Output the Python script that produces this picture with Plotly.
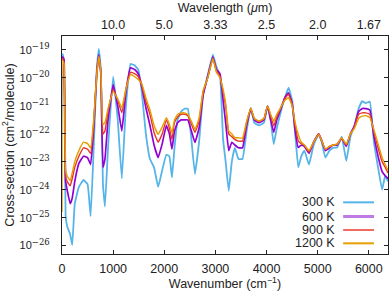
import plotly.graph_objects as go

# ---- data (log10 of cross-section, cm^2/molecule) ----
wavenumber = [0, 15, 40, 70, 100, 160, 200, 250, 330, 420,
              500, 560, 620, 680, 720, 760, 800, 840, 900, 1000,
              1090, 1170, 1250, 1340, 1420, 1490, 1560, 1640, 1720, 1800,
              1880, 1960, 2040, 2100, 2150, 2200, 2260, 2330, 2400, 2460,
              2530, 2600, 2680, 2760, 2850, 2950, 3020, 3090, 3150, 3200,
              3260, 3320, 3380, 3450, 3530, 3610, 3690, 3760, 3850, 3950,
              4020, 4080, 4140, 4200, 4280, 4360, 4430, 4500, 4560, 4620,
              4680, 4740, 4830, 4920, 5020, 5080, 5150, 5230, 5300, 5380,
              5470, 5560, 5640, 5720, 5800, 5870, 5940, 6020, 6100, 6180,
              6260, 6320, 6375]

log_xs_300 = [-19.2, -19.15, -19.5, -24.9, -25.3, -25.6, -25.97, -24.5, -23.9, -23.65,
              -23.8, -24.95, -22.5, -19.7, -18.96, -19.7, -23.8, -24.6, -22.5, -19.95,
              -21.5, -23.6, -21.0, -19.5, -19.55, -19.7, -20.5, -22.0, -22.9, -23.2,
              -23.9, -23.3, -22.75, -22.8, -23.56, -22.5, -21.5, -21.2, -21.1, -21.1,
              -22.2, -23.44, -22.3, -20.6, -19.9, -19.17, -19.6, -19.9, -22.2, -23.0,
              -24.04, -23.0, -22.5, -22.9, -22.9, -21.9, -21.07, -21.6, -21.7, -21.6,
              -21.0, -21.5, -22.37, -21.8, -21.2, -20.7, -20.35, -20.8, -22.0, -23.2,
              -22.8, -22.6, -23.1, -22.4, -22.02, -22.3, -22.85, -22.6, -22.5, -22.49,
              -22.1, -22.97, -22.1, -21.7, -21.1, -20.83, -20.9, -20.85, -22.3, -23.2,
              -24.0, -23.5, -23.7]

log_xs_600 = [-19.3, -19.25, -19.35, -23.7, -24.0, -24.5, -24.3, -23.7, -23.06, -22.8,
              -22.85, -23.1, -21.8, -19.8, -19.17, -19.8, -23.2, -22.9, -21.5, -20.25,
              -21.0, -21.9, -20.5, -19.64, -19.7, -19.85, -20.3, -21.06, -21.7, -22.4,
              -22.85, -22.35, -21.7, -22.0, -22.55, -21.9, -21.6, -21.5, -21.5, -21.5,
              -21.9, -22.31, -21.8, -20.6, -19.95, -19.25, -19.7, -19.85, -20.8, -21.6,
              -22.6, -22.3, -22.4, -22.5, -22.5, -21.7, -21.1, -21.5, -21.6, -21.5,
              -21.0, -21.5, -21.95, -21.5, -21.1, -20.7, -20.53, -20.9, -21.9, -22.49,
              -22.4, -22.45, -22.7, -22.3, -22.0, -22.25, -22.6, -22.5, -22.4, -22.4,
              -22.15, -22.45, -22.0, -21.7, -21.2, -21.1, -21.1, -21.15, -22.1, -22.8,
              -23.35, -23.5, -23.6]

log_xs_900 = [-19.35, -19.3, -19.45, -23.5, -23.7, -23.86, -23.6, -23.2, -22.8, -22.5,
              -22.55, -22.7, -21.6, -19.85, -19.29, -19.9, -22.02, -21.9, -21.2, -20.4,
              -20.8, -21.25, -20.4, -19.8, -19.85, -19.95, -20.25, -20.85, -21.3, -21.95,
              -22.3, -22.0, -21.5, -21.8, -22.2, -21.6, -21.4, -21.3, -21.3, -21.35,
              -21.65, -21.95, -21.55, -20.5, -20.0, -19.3, -19.75, -19.95, -20.5, -21.0,
              -22.0, -22.1, -22.2, -22.26, -22.26, -21.6, -21.1, -21.45, -21.55, -21.45,
              -21.0, -21.35, -21.72, -21.4, -21.05, -20.75, -20.59, -20.95, -21.7, -22.26,
              -22.35, -22.4, -22.65, -22.3, -22.0, -22.25, -22.55, -22.45, -22.4, -22.37,
              -22.15, -22.4, -22.0, -21.75, -21.3, -21.25, -21.25, -21.3, -21.95, -22.5,
              -23.0, -23.2, -23.4]

log_xs_1200 = [-24.8, -19.4, -19.5, -23.3, -23.5, -23.68, -23.4, -23.0, -22.6, -22.3,
               -22.35, -22.5, -21.5, -19.85, -19.23, -19.8, -21.66, -21.6, -21.1, -20.5,
               -20.75, -21.07, -20.4, -19.88, -19.95, -20.06, -20.2, -20.71, -21.15, -21.7,
               -22.02, -21.75, -21.42, -21.65, -21.96, -21.5, -21.3, -21.25, -21.25, -21.3,
               -21.55, -21.84, -21.45, -20.45, -20.0, -19.3, -19.8, -20.0, -20.4, -20.9,
               -21.9, -22.0, -22.14, -22.14, -22.15, -21.55, -21.07, -21.45, -21.55, -21.45,
               -21.0, -21.3, -21.55, -21.3, -21.05, -20.8, -20.71, -21.0, -21.6, -22.02,
               -22.3, -22.4, -22.6, -22.3, -22.02, -22.25, -22.55, -22.45, -22.4, -22.37,
               -22.14, -22.37, -22.0, -21.8, -21.45, -21.37, -21.35, -21.42, -21.85, -22.35,
               -22.85, -23.1, -23.3]

series_names = ["300 K", "600 K", "900 K", "1200 K"]
series_logs = [log_xs_300, log_xs_600, log_xs_900, log_xs_1200]
series_colors = ["#56b4e9", "#9400d3", "#e8352a", "#e69f00"]
legend_colors = ["#56b4e9", "#c07ae6", "#f06a60", "#e69f00"]
legend_widths = [2, 3, 2, 2]
series_widths = [1.8, 1.7, 1.4, 1.4]

x_ticks = [0, 1000, 2000, 3000, 4000, 5000, 6000]
top_tick_vals = [1000, 2000, 3000, 4000, 5000, 6000]
top_tick_text = ["10.0", "5.0", "3.33", "2.5", "2.0", "1.67"]
y_exponents = [-19, -20, -21, -22, -23, -24, -25, -26]

FONT = "Liberation Sans, Arial, sans-serif"
SERIF = "DejaVu Serif, Liberation Serif, serif"
AX = "#222222"

fig = go.Figure()
for name, logs, col, w in zip(series_names, series_logs, series_colors, series_widths):
    fig.add_trace(go.Scatter(
        x=wavenumber, y=[10 ** v for v in logs], mode="lines", name=name,
        line=dict(color=col, width=w, shape="spline", smoothing=0.3),
        showlegend=False, hoverinfo="skip"))

# invisible trace to activate top axis
fig.add_trace(go.Scatter(x=[wavenumber[0]], y=[10 ** log_xs_300[0]], xaxis="x2",
                         mode="markers", marker=dict(opacity=0), showlegend=False,
                         hoverinfo="skip"))

X_RANGE = [0, 6375]
fig.update_layout(
    width=390, height=291,
    margin=dict(l=61.5, r=1.5, t=36, b=37, autoexpand=False),
    paper_bgcolor="white", plot_bgcolor="white",
    font=dict(family=FONT, size=12.5, color=AX),
    xaxis=dict(range=X_RANGE, tickvals=x_ticks, ticks="inside", ticklen=4,
               tickcolor=AX, showline=True, linecolor=AX, linewidth=1, mirror=True,
               showgrid=False, zeroline=False, automargin=False, ticklabelstandoff=3,
               tickfont=dict(size=12.5, family=FONT),
               title=dict(text="Wavenumber (cm<sup>−1</sup>)", standoff=0,
                          font=dict(size=12.5, family=FONT))),
    xaxis2=dict(range=X_RANGE, overlaying="x", side="top", tickvals=top_tick_vals,
                ticktext=top_tick_text, ticks="inside", ticklen=4, tickcolor=AX,
                showline=False, showgrid=False, zeroline=False, automargin=False,
                ticklabelstandoff=4,
                tickfont=dict(size=12.5, family=FONT),
                title=dict(text="Wavelength (<i>μ</i>m)", standoff=2,
                           font=dict(size=12.5, family=FONT))),
    yaxis=dict(type="log", range=[-26.3, -18.5],
               tickvals=[10.0 ** e for e in y_exponents],
               ticktext=["10<sup><span style='font-size:8.5px;font-family:%s'>−%d</span></sup>"
                         % (SERIF, -e) for e in y_exponents],
               ticks="inside", ticklen=4, tickcolor=AX, showline=True, linecolor=AX,
               linewidth=1, mirror="ticks", showgrid=False, zeroline=False,
               automargin=False, ticklabelstandoff=9,
               tickfont=dict(size=11, family=FONT),
               title=dict(text="Cross-section (cm<sup>2</sup>/molecule)", standoff=2,
                          font=dict(size=12.5, family=FONT))),
)

# custom legend (text left, sample right)
row_y = [0.237, 0.172, 0.110, 0.049]
for name, col, lw, ry in zip(series_names, legend_colors, legend_widths, row_y):
    fig.add_annotation(x=0.8425, y=ry, xref="paper", yref="paper", text=name,
                       showarrow=False, xanchor="right", yanchor="middle",
                       font=dict(size=12.5, family=FONT, color=AX))
    fig.add_shape(type="line", xref="paper", yref="paper", x0=0.8624, x1=0.957,
                  y0=ry, y1=ry, line=dict(color=col, width=lw))

fig.write_html("out.html", config={"displayModeBar": False},
               post_script="document.body.style.margin='0';document.body.style.overflow='hidden';")
